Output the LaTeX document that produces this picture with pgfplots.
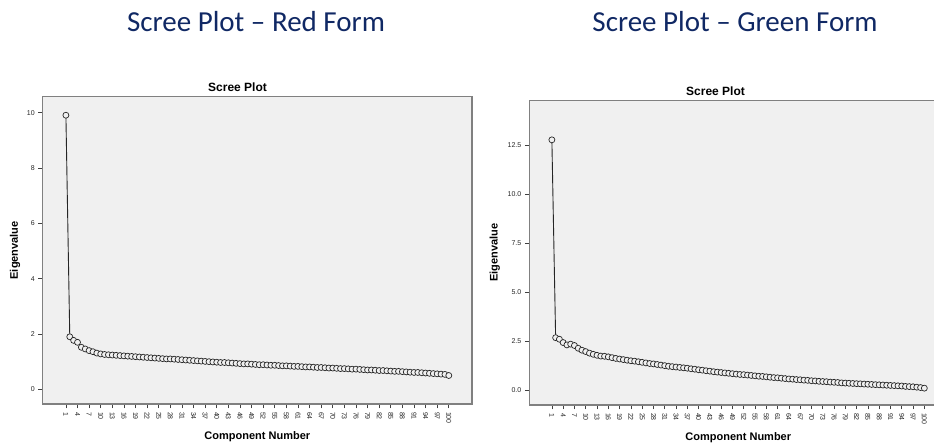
\documentclass[border=0pt]{standalone}
\usepackage{fontspec}
\setmainfont{Liberation Sans}
\newfontfamily\calibri{Carlito}
\usepackage{pgfplots}
\usepackage{pgfplotstable}
\pgfplotsset{compat=1.18}
\definecolor{bgc}{RGB}{240,240,240}
\definecolor{framec}{RGB}{128,128,128}
\definecolor{navy}{RGB}{16,40,100}

\pgfplotstableread{
n v
1 9.91
2 1.90
3 1.77
4 1.70
5 1.52
6 1.46
7 1.40
8 1.36
9 1.31
10 1.28
11 1.26
12 1.25
13 1.24
14 1.23
15 1.22
16 1.21
17 1.20
18 1.19
19 1.18
20 1.17
21 1.16
22 1.15
23 1.14
24 1.13
25 1.12
26 1.11
27 1.10
28 1.10
29 1.09
30 1.08
31 1.07
32 1.06
33 1.05
34 1.04
35 1.03
36 1.02
37 1.01
38 1.00
39 0.99
40 0.98
41 0.97
42 0.97
43 0.96
44 0.95
45 0.94
46 0.93
47 0.92
48 0.92
49 0.91
50 0.90
51 0.89
52 0.89
53 0.88
54 0.87
55 0.87
56 0.86
57 0.85
58 0.85
59 0.84
60 0.83
61 0.83
62 0.82
63 0.81
64 0.81
65 0.80
66 0.79
67 0.79
68 0.78
69 0.77
70 0.77
71 0.76
72 0.75
73 0.75
74 0.74
75 0.73
76 0.73
77 0.72
78 0.71
79 0.70
80 0.70
81 0.69
82 0.68
83 0.68
84 0.67
85 0.66
86 0.65
87 0.65
88 0.64
89 0.63
90 0.62
91 0.61
92 0.61
93 0.60
94 0.59
95 0.58
96 0.57
97 0.56
98 0.55
99 0.54
100 0.50
}\redtab

\pgfplotstableread{
n v
1 12.78
2 2.67
3 2.59
4 2.42
5 2.30
6 2.34
7 2.27
8 2.13
9 2.03
10 1.96
11 1.88
12 1.82
13 1.77
14 1.73
15 1.72
16 1.69
17 1.65
18 1.61
19 1.58
20 1.55
21 1.52
22 1.49
23 1.47
24 1.44
25 1.41
26 1.38
27 1.35
28 1.33
29 1.30
30 1.27
31 1.24
32 1.21
33 1.19
34 1.17
35 1.15
36 1.13
37 1.11
38 1.08
39 1.06
40 1.03
41 1.01
42 0.98
43 0.96
44 0.93
45 0.91
46 0.89
47 0.87
48 0.85
49 0.83
50 0.81
51 0.79
52 0.78
53 0.76
54 0.74
55 0.72
56 0.70
57 0.69
58 0.67
59 0.65
60 0.63
61 0.62
62 0.60
63 0.58
64 0.56
65 0.55
66 0.53
67 0.52
68 0.50
69 0.49
70 0.47
71 0.46
72 0.44
73 0.43
74 0.42
75 0.40
76 0.39
77 0.38
78 0.36
79 0.35
80 0.34
81 0.33
82 0.32
83 0.31
84 0.30
85 0.29
86 0.28
87 0.27
88 0.26
89 0.25
90 0.24
91 0.23
92 0.22
93 0.21
94 0.20
95 0.18
96 0.17
97 0.16
98 0.14
99 0.12
100 0.09
}\greentab

\pgfplotsset{
  spss/.style={
    scale only axis,
    anchor=south west,
    axis background/.style={fill=bgc},
    axis line style={draw=framec, line width=1.3pt},
    tick style={draw=black!75, line width=0.6pt},
    tick align=outside,
    tick pos=left,
    major tick length=4.5pt,
    xtick={1,4,...,100},
    /pgf/number format/assume math mode=true,
    x tick label style={rotate=-90, anchor=west, font=\fontsize{7}{8}\selectfont, text=black!85},
    y tick label style={font=\fontsize{7}{8}\selectfont, text=black!85},
    every axis title/.style={font=\bfseries\fontsize{12}{14}\selectfont, anchor=center, yshift=9.5pt},
    xlabel={Component Number},
    ylabel={Eigenvalue},
    clip=false,
  },
  screeline/.style={black!85, line width=0.9pt, mark=*, mark size=3pt,
    mark options={fill=bgc, draw=black!85, line width=0.7pt}},
}

\begin{document}
\begin{tikzpicture}
\path[use as bounding box] (0pt,0pt) rectangle (935pt,443pt);

\node[font=\calibri\fontsize{29}{32}\selectfont, text=navy] at (256pt,421pt) {Scree Plot – Red Form};
\node[font=\calibri\fontsize{29}{32}\selectfont, text=navy] at (735pt,421pt) {Scree Plot – Green Form};

\begin{axis}[spss,
  at={(42.7pt,39pt)}, width=429.3pt, height=307.3pt,
  xmin=-5, xmax=106,
  ymin=-0.53, ymax=10.58,
  ytick={0,2,...,10},
  title={Scree Plot},
  title style={at={(0.4538,1)}},
  every axis x label/.style={at={(axis description cs:0.5,0)}, anchor=center, yshift=-33pt, font=\bfseries\fontsize{11}{13}\selectfont},
  every axis y label/.style={at={(axis description cs:0,0.5)}, xshift=-27.7pt, rotate=90, anchor=center, font=\bfseries\fontsize{11}{13}\selectfont},
]
\addplot[screeline] table[x=n,y=v] {\redtab};
\end{axis}

\begin{axis}[spss,
  at={(529.3pt,38pt)}, width=405.0pt, height=304.3pt,
  axis lines*=left,
  xmin=-5, xmax=102.65,
  ymin=-0.77, ymax=14.78,
  ytick={0,2.5,5,7.5,10,12.5},
  yticklabel style={/pgf/number format/.cd, fixed, fixed zerofill, precision=1},
  title={Scree Plot},
  title style={at={(0.4598,1)}},
  every axis x label/.style={at={(axis description cs:0.516,0)}, anchor=center, yshift=-33pt, font=\bfseries\fontsize{11}{13}\selectfont},
  every axis y label/.style={at={(axis description cs:0,0.5)}, xshift=-34.5pt, rotate=90, anchor=center, font=\bfseries\fontsize{11}{13}\selectfont},
]
\addplot[screeline] table[x=n,y=v] {\greentab};
\draw[framec, line width=1.3pt] (rel axis cs:0,1) -- (rel axis cs:1,1);
\end{axis}
\end{tikzpicture}
\end{document}
